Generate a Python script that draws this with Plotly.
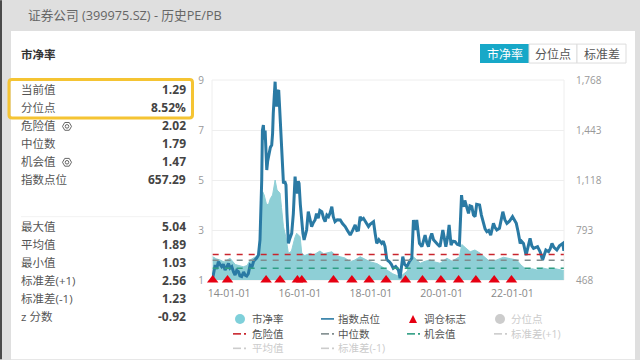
import plotly.graph_objects as go

pb_dates = ["2013-07-15","2013-08-20","2013-09-30","2013-11-10","2014-01-10","2014-03-05","2014-05-27","2014-07-05","2014-08-05","2014-09-15","2014-10-30","2014-11-15","2014-12-05","2014-12-13","2014-12-28","2015-01-20","2015-02-10","2015-03-01","2015-03-25","2015-04-08","2015-04-20","2015-05-10","2015-06-10","2015-06-25","2015-07-15","2015-08-10","2015-09-04","2015-10-05","2015-10-25","2015-11-10","2015-11-28","2016-01-03","2016-01-20","2016-02-20","2016-04-15","2016-05-20","2016-07-26","2016-09-01","2016-11-25","2017-01-05","2017-02-20","2017-04-10","2017-06-03","2017-07-20","2017-09-13","2017-11-01","2017-12-25","2018-03-10","2018-06-15","2018-08-15","2018-10-30","2019-01-10","2019-03-17","2019-05-25","2019-07-15","2019-09-05","2019-10-25","2019-12-16","2020-02-25","2020-04-20","2020-07-03","2020-07-28","2020-10-22","2020-12-10","2021-02-03","2021-03-20","2021-05-15","2021-07-20","2021-10-01","2021-12-15","2022-02-15","2022-03-30","2022-05-30","2022-07-25","2022-09-10","2022-11-10","2023-01-15","2023-03-20","2023-05-08","2023-06-15"]
pb_values = [1.93,1.85,1.80,1.72,1.87,1.62,1.53,1.58,1.80,1.90,2.00,2.73,3.95,4.53,4.40,4.05,4.00,4.25,4.40,4.75,5.00,4.60,4.47,3.90,3.13,2.70,2.07,2.15,2.47,2.70,2.87,2.73,2.07,1.98,2.07,2.00,2.16,2.05,2.13,1.98,1.93,1.88,1.73,1.80,1.93,1.85,1.73,1.65,1.40,1.25,1.13,1.35,1.93,1.67,1.75,1.80,1.72,1.67,1.87,1.75,1.93,2.42,2.13,2.20,2.07,1.90,1.73,1.80,1.91,1.85,1.80,1.60,1.40,1.45,1.40,1.48,1.42,1.45,1.40,1.38]

index_dates = [
 "2013-07-15","2013-07-28","2013-08-10","2013-08-25","2013-09-12","2013-09-28","2013-10-16","2013-11-02","2013-11-20","2013-12-05","2013-12-25",
 "2014-01-10","2014-01-28","2014-02-15","2014-03-03","2014-03-20","2014-04-07","2014-04-22","2014-05-10","2014-05-30","2014-06-15","2014-07-01","2014-07-18","2014-08-05","2014-08-25","2014-09-10","2014-09-25","2014-10-12","2014-10-30","2014-11-15","2014-12-03","2014-12-10","2014-12-20","2014-12-28",
 "2015-01-07","2015-01-15","2015-01-24","2015-02-02","2015-02-17","2015-03-02","2015-03-16","2015-03-25","2015-04-01","2015-04-10","2015-04-20","2015-04-28","2015-05-07","2015-05-15","2015-05-27","2015-06-03","2015-06-10","2015-06-20","2015-06-28","2015-07-08","2015-07-15","2015-07-28","2015-08-10","2015-08-20","2015-09-04","2015-09-20","2015-10-08","2015-10-25","2015-11-12","2015-11-22","2015-12-06","2015-12-15","2015-12-23",
 "2016-01-05","2016-01-20","2016-02-01","2016-02-13","2016-02-28","2016-03-10","2016-03-27","2016-04-10","2016-05-01","2016-05-18","2016-06-05","2016-06-20","2016-07-08","2016-07-25","2016-08-14","2016-09-01","2016-09-17","2016-10-05","2016-10-22","2016-11-08","2016-11-25","2016-12-10","2016-12-28",
 "2017-01-20","2017-02-20","2017-03-15","2017-04-12","2017-05-05","2017-06-03","2017-06-28","2017-07-24","2017-08-10","2017-08-27","2017-09-13","2017-09-25","2017-10-17","2017-11-10","2017-12-08","2017-12-25",
 "2018-01-29","2018-02-15","2018-03-03","2018-03-25","2018-04-23","2018-05-10","2018-05-28","2018-06-15","2018-07-12","2018-08-01","2018-08-21","2018-09-15","2018-10-13","2018-10-30","2018-11-27","2018-12-15",
 "2019-01-08","2019-02-05","2019-02-28","2019-03-17","2019-04-04","2019-04-20","2019-05-05","2019-05-18","2019-06-12","2019-07-15","2019-08-02","2019-08-19","2019-09-05","2019-09-22","2019-10-10","2019-10-26","2019-11-20","2019-12-16",
 "2020-01-14","2020-01-28","2020-02-14","2020-03-05","2020-03-19","2020-04-08","2020-04-25","2020-05-20","2020-06-10","2020-07-03","2020-07-25","2020-08-05","2020-08-14","2020-08-28","2020-09-11","2020-09-25","2020-10-05","2020-10-20","2020-11-08","2020-11-25","2020-12-12","2020-12-28",
 "2021-01-27","2021-02-15","2021-03-08","2021-03-25","2021-04-12","2021-05-01","2021-05-22","2021-06-05","2021-06-19","2021-07-05","2021-07-24","2021-08-20","2021-09-05","2021-09-24","2021-10-15","2021-11-05","2021-12-01",
 "2022-01-02","2022-01-20","2022-02-10","2022-03-01","2022-03-22","2022-04-05","2022-04-25","2022-05-22","2022-06-10","2022-07-02","2022-07-20","2022-08-07","2022-09-17","2022-10-15","2022-11-08","2022-12-12",
 "2023-01-09","2023-01-25","2023-02-13","2023-03-05","2023-04-04","2023-05-01","2023-06-05","2023-06-15"]
index_values = [
 479,530,565,540,587,570,555,570,533,550,576,
 545,555,520,500,530,522,495,490,520,500,494,510,565,555,590,598,610,630,728,1118,1440,1475,1380,
 1440,1290,1183,1240,1291,1330,1345,1420,1551,1640,1757,1640,1595,1690,1703,1620,1530,1380,1270,1150,1096,1110,1085,900,706,740,771,900,1140,1060,1031,1110,1096,
 960,815,770,728,780,793,912,880,815,840,858,900,869,920,912,870,847,890,880,905,945,880,847,
 860,858,835,815,790,760,790,826,790,793,880,860,869,840,815,830,
 847,770,706,730,706,720,685,600,587,570,544,555,533,479,620,570,
 555,590,609,858,793,858,780,706,685,760,710,685,740,771,730,717,700,685,
 793,745,685,750,826,695,720,717,700,695,1020,960,945,985,955,925,901,950,945,890,880,960,
 955,890,836,800,782,790,760,800,836,810,793,804,860,912,860,836,850,
 880,860,836,780,706,720,706,630,680,739,690,674,685,650,598,663,
 652,670,706,680,663,690,706,657]

rebalance_dates = ["2013-07-15","2013-12-15","2015-01-17","2015-06-10","2015-12-06","2016-01-20","2016-12-12","2017-06-20","2017-12-15","2018-06-08","2018-12-25","2019-06-18","2019-12-25","2020-06-25","2020-12-20","2021-06-27","2021-12-22"]
rebalance_values = [1]*len(rebalance_dates)

danger, median, chance = 2.02, 1.79, 1.47
left_ticks = [1, 3, 5, 7, 9]
right_ticks = [468, 793, 1118, 1443, 1768]

rows_top = [("当前值","1.29"),("分位点","8.52%"),("危险值","2.02"),("中位数","1.79"),("机会值","1.47"),("指数点位","657.29")]
rows_bottom = [("最大值","5.04"),("平均值","1.89"),("最小值","1.03"),("标准差(+1)","2.56"),("标准差(-1)","1.23"),("z 分数","-0.92")]

FONT = "Open Sans, Noto Sans CJK SC, sans-serif"
L0, L, R, T, B = 204, 212, 564, 80, 280.5
px = lambda x: (x - L0) / (R - L0)
py = lambda y: (B - y) / (B - T)

fig = go.Figure()
fig.add_trace(go.Scatter(x=pb_dates, y=pb_values, mode="lines", fill="tozeroy", line=dict(color="#8ecfd6", width=1), fillcolor="#8ecfd6", name="市净率"))
fig.add_trace(go.Scatter(x=index_dates, y=index_values, yaxis="y2", mode="lines", line=dict(color="#2a7aa4", width=3), name="指数点位"))
for val, col, nm in [(danger, "#c9252d", "危险值"), (median, "#7f8c8d", "中位数"), (chance, "#2f9e83", "机会值")]:
    fig.add_trace(go.Scatter(x=[pb_dates[0], index_dates[-1]], y=[val, val], yaxis="y3", mode="lines", line=dict(color=col, width=1.4, dash="6px,6px"), name=nm))
fig.add_trace(go.Scatter(x=rebalance_dates, y=rebalance_values, yaxis="y3", mode="markers", marker=dict(symbol="triangle-up", size=10, color="#e60012"), cliponaxis=False, name="调仓标志"))

shapes, ann = [], []
def rect(x0, y0, x1, y1, fill, line=None, w=1, layer="below"):
    shapes.append(dict(type="rect", xref="paper", yref="paper", x0=px(x0), x1=px(x1), y0=py(y0), y1=py(y1), fillcolor=fill, line=dict(color=line or fill, width=w if line else 0), layer=layer))
def text(x, y, s, size=12, color="#555", anchor="left", bold=False):
    shift = {"left": -2, "right": 2, "center": 0}[anchor]
    ann.append(dict(xref="paper", yref="paper", x=px(x), y=py(y), text=f"<b>{s}</b>" if bold else s, showarrow=False, xanchor=anchor, yanchor="middle", xshift=shift, font=dict(size=size, color=color, family=FONT)))
def gear(cx, cy):
    r, h = 4.5, 3.9
    pts = [(cx - r, cy), (cx - r / 2, cy - h), (cx + r / 2, cy - h), (cx + r, cy), (cx + r / 2, cy + h), (cx - r / 2, cy + h)]
    path = "M " + " L ".join(f"{px(a)} {py(b)}" for a, b in pts) + " Z"
    shapes.append(dict(type="path", xref="paper", yref="paper", path=path, line=dict(color="#666", width=1), layer="below"))
    shapes.append(dict(type="circle", xref="paper", yref="paper", x0=px(cx - 1.8), x1=px(cx + 1.8), y0=py(cy - 1.8), y1=py(cy + 1.8), line=dict(color="#666", width=1), layer="below"))

rect(0, 0, 2, 360, "#4a4a4a")
rect(11, 31, 635, 360, "#ffffff")
rect(L, T, R, B, "rgba(0,0,0,0)", "#eeeeee")
text(28, 15, "证券公司 (399975.SZ) - 历史PE/PB", 12.7, "#666")
text(21, 54, "市净率", 11.5, "#333", bold=True)
for i, (a, b) in enumerate(rows_top):
    y = 90 + 18 * i
    text(21, y, a, 11.5, "#555")
    text(186, y, b, 12, "#444", "right", True)
gear(67, 126.5)
gear(67, 162.5)
shapes.append(dict(type="line", xref="paper", yref="paper", x0=px(21), x1=px(190), y0=py(217), y1=py(217), line=dict(color="#f2f2f2", width=1), layer="below"))
for i, (a, b) in enumerate(rows_bottom):
    y = 227 + 18 * i
    text(21, y, a, 11.5, "#555")
    text(186, y, b, 12, "#444", "right", True)
x0, x1, y0, y1, c = 9, 192.5, 79.5, 118, 3
box = (f"M {px(x0+c)} {py(y0)} L {px(x1-c)} {py(y0)} Q {px(x1)} {py(y0)} {px(x1)} {py(y0+c)} "
       f"L {px(x1)} {py(y1-c)} Q {px(x1)} {py(y1)} {px(x1-c)} {py(y1)} L {px(x0+c)} {py(y1)} "
       f"Q {px(x0)} {py(y1)} {px(x0)} {py(y1-c)} L {px(x0)} {py(y0+c)} Q {px(x0)} {py(y0)} {px(x0+c)} {py(y0)} Z")
shapes.append(dict(type="path", xref="paper", yref="paper", path=box, line=dict(color="#f5c433", width=3), layer="above"))

rect(480, 44, 529, 63, "#17a8c8")
rect(529, 44, 577, 63, "#ffffff", "#dddddd")
rect(577, 44, 626, 63, "#ffffff", "#dddddd")
text(504.5, 54, "市净率", 12, "#ffffff", "center")
text(553, 54, "分位点", 12, "#555", "center")
text(601.5, 54, "标准差", 12, "#555", "center")

# legend
COLS = [240, 327, 413, 500]
ROWS = [319.5, 334.5, 349]
def leg_line(cx, y, col, dashed):
    a0 = cx - 6
    segs = [(a0, a0 + 8), (a0 + 11, a0 + 13)] if dashed else [(a0, a0 + 13)]
    for a, b in segs:
        shapes.append(dict(type="line", xref="paper", yref="paper", x0=px(a), x1=px(b), y0=py(y), y1=py(y), line=dict(color=col, width=1.6), layer="below"))
def leg_dot(cx, y, col):
    shapes.append(dict(type="circle", xref="paper", yref="paper", x0=px(cx - 5), x1=px(cx + 5), y0=py(y - 5), y1=py(y + 5), fillcolor=col, line=dict(width=0), layer="below"))
leg_dot(COLS[0], ROWS[0], "#7fd0da")
text(252, ROWS[0], "市净率", 10.5, "#555")
leg_line(COLS[1], ROWS[0], "#2a7aa4", False)
text(338, ROWS[0], "指数点位", 10.5, "#555")
shapes.append(dict(type="path", xref="paper", yref="paper", path=f"M {px(409)} {py(323.5)} L {px(417)} {py(323.5)} L {px(413)} {py(315.5)} Z", fillcolor="#e60012", line=dict(width=0), layer="below"))
text(424, ROWS[0], "调仓标志", 10.5, "#555")
leg_dot(COLS[3], ROWS[0], "#cccccc")
text(511, ROWS[0], "分位点", 10.5, "#cccccc")
leg_line(COLS[0] - 1, ROWS[1], "#c9252d", True)
text(252, ROWS[1], "危险值", 10.5, "#555")
leg_line(COLS[1], ROWS[1], "#7f8c8d", True)
text(338, ROWS[1], "中位数", 10.5, "#555")
leg_line(COLS[2], ROWS[1], "#2f9e83", True)
text(424, ROWS[1], "机会值", 10.5, "#555")
leg_line(COLS[3], ROWS[1], "#cccccc", True)
text(511, ROWS[1], "标准差(+1)", 10.5, "#cccccc")
leg_line(COLS[0] - 1, ROWS[2], "#cccccc", True)
text(252, ROWS[2], "平均值", 10.5, "#cccccc")
leg_line(COLS[1], ROWS[2], "#cccccc", True)
text(338, ROWS[2], "标准差(-1)", 10.5, "#cccccc")

fig.update_layout(
    width=640, height=360, margin=dict(l=L0, r=640 - R, t=T, b=360 - B),
    paper_bgcolor="#dfdfdf", plot_bgcolor="rgba(0,0,0,0)", showlegend=False,
    font=dict(family=FONT, size=10, color="#999"), shapes=shapes, annotations=ann,
    xaxis=dict(type="date", domain=[px(L), 1], range=["2013-07-08", "2023-06-17"], tick0="2014-01-01", dtick="M24", tickformat="%y-%m-%d",
               showgrid=False, showline=False, ticks="outside", ticklen=3, tickcolor="rgba(0,0,0,0)", tickfont=dict(size=10.5, color="#888")),
    yaxis=dict(anchor="free", position=0, side="left", range=[1, 9], tickvals=left_ticks, gridcolor="#eeeeee", showline=False, zeroline=False,
               ticks="", tickfont=dict(size=10, color="#999")),
    yaxis2=dict(overlaying="y", side="right", anchor="x", range=[468, 1768], tickvals=right_ticks, tickformat=",", showgrid=False, zeroline=False,
                ticks="", ticklabelstandoff=11, tickfont=dict(size=10, color="#999")),
    yaxis3=dict(overlaying="y", anchor="x", range=[1, 9], visible=False),
)
fig.write_html("out.html", post_script="document.body.style.margin='0';document.body.style.overflow='hidden';", config={"displayModeBar": False})
